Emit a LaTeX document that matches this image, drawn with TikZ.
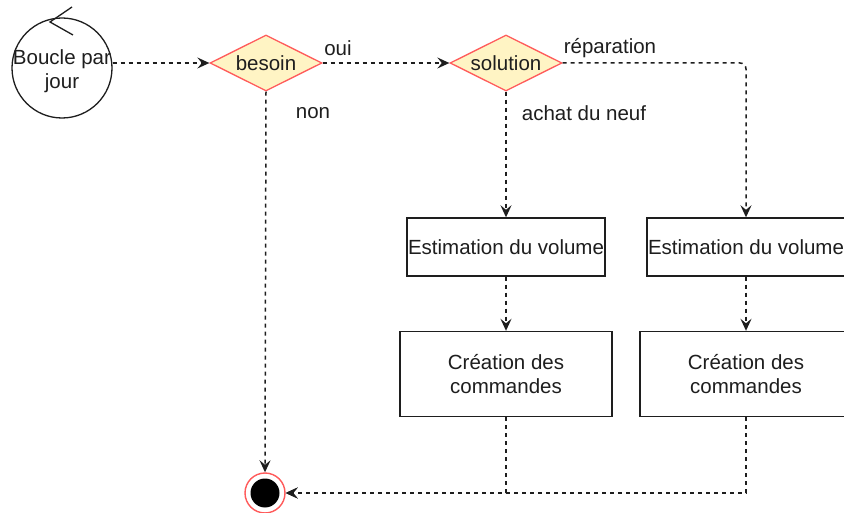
\documentclass[tikz,border=0pt]{standalone}
\usepackage{fontspec}
\setmainfont{Liberation Sans}
\usetikzlibrary{shapes.geometric,arrows.meta}
\definecolor{dfill}{HTML}{FFF4C4}
\definecolor{dline}{HTML}{FF5A5A}
\definecolor{ink}{HTML}{1E1E1E}
\begin{document}
\begin{tikzpicture}[x=1pt,y=-1pt,
  every node/.style={font=\fontsize{20.5}{24}\selectfont, text=ink},
  decision/.style={diamond, draw=dline, fill=dfill, line width=1.3pt, minimum width=112pt, minimum height=56pt, aspect=2, inner sep=0pt},
  actbox/.style={rectangle, draw=ink, line width=1.4pt, align=center, inner sep=0pt},
  conn/.style={draw=ink, line width=1.5pt, dash pattern=on 4pt off 4pt, -{Stealth[length=12pt,width=11pt,inset=4.5pt]}},
  lbl/.style={inner sep=0pt}]
\useasboundingbox (0,0) rectangle (844,513);
\clip (0,0) rectangle (844,513);
\fill[white] (0,0) rectangle (844,513);

% loop start
\node[circle, draw=ink, line width=1.3pt, minimum size=100pt, inner sep=0pt] (loop) at (62,68) {};
\node[align=center, inner sep=0pt] (looptext) at (62,71) {Boucle par\\jour};
\draw[ink, line width=1.3pt] (72,7) -- (50,22) -- (73,35);

% decisions
\node[decision] (besoin) at (266,63) {besoin};
\node[decision] (solution) at (506,63) {solution};

% actions
\node[actbox, minimum width=198pt, minimum height=58pt] (est1) at (506,247) {Estimation du volume};
\node[actbox, minimum width=198pt, minimum height=58pt] (est2) at (746,247) {Estimation du volume};
\node[actbox, minimum width=212pt, minimum height=85pt] (cmd1) at (506,374) {Création des\\commandes};
\node[actbox, minimum width=212pt, minimum height=85pt] (cmd2) at (746,374) {Création des\\commandes};

% final
\node[circle, draw=dline, fill=white, line width=1.4pt, minimum size=40pt, inner sep=0pt] (end) at (265,493) {};
\node[circle, fill=black, minimum size=29pt, inner sep=0pt] (endin) at (end) {};

% labels
\node[lbl] (oui) at (338,48) {oui};
\node[lbl] (non) at (313,113) {non};
\node[lbl] (rep) at (610,48) {réparation};
\node[lbl] (achat) at (584,113) {achat du neuf};

% connectors
\draw[conn] (besoin.west -| loop.east) -- (besoin.west);
\draw[conn] (besoin.east) -- (solution.west);
\draw[conn] (besoin.south) -- (end.north);
\draw[conn] (solution.south) -- (est1.north);
\draw[conn, rounded corners=6pt] (solution.east) -| (est2.north);
\draw[conn] (est1.south) -- (cmd1.north);
\draw[conn] (est2.south) -- (cmd2.north);
\draw[conn] (cmd1.south) |- (end.east);
\draw[conn] (cmd2.south) |- (end.east);
\end{tikzpicture}
\end{document}
